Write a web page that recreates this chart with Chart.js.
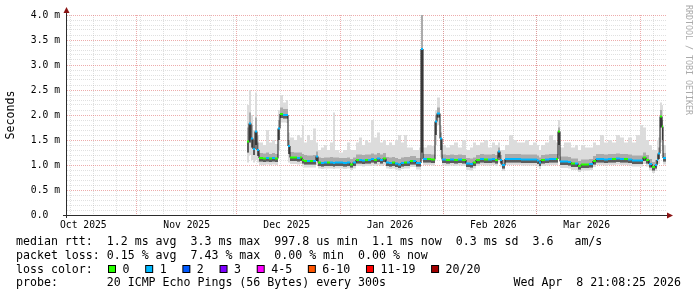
<!DOCTYPE html>
<html lang="en">
<head>
<meta charset="UTF-8">
<title>Smokeping median RTT</title>
<script src="https://cdn.jsdelivr.net/npm/chart.js"></script>
<style>
  body { margin: 0; background: #fff; }
  canvas { display: block; }
</style>
</head>
<body>
<canvas id="pingChart" width="697" height="297"></canvas>
<script>
// x values are days since 1 Oct 2025 (local time), one bin per entry
var times = [
  64.1, 64.7, 65.3, 65.9, 66.5, 67.1, 67.7, 68.9, 69.8, 70.7,
  71.6, 72.5, 73.4, 74.0, 74.9, 75.8, 76.4, 77.0, 78.2, 79.1,
  80.0, 80.6, 81.2, 82.1, 83.0, 83.9, 84.8, 85.4, 86.3, 87.2,
  88.1, 89.0, 89.9, 90.5, 91.7, 92.9, 94.1, 95.0, 95.9, 96.8,
  97.7, 98.6, 99.5, 100.4, 101.3, 102.2, 103.1, 104.0, 104.9, 105.8,
  106.7, 107.6, 108.5, 109.4, 110.3, 111.2, 112.1, 113.0, 113.9, 114.8,
  115.7, 116.3, 116.9, 118.1, 119.3, 120.5, 121.1, 122.0, 122.6, 123.8,
  125.0, 126.2, 127.4, 128.6, 129.8, 131.0, 131.9, 132.8, 134.0, 135.2,
  136.4, 137.6, 138.5, 139.4, 140.0, 140.6, 141.5, 142.7, 143.9, 145.1,
  146.3, 147.5, 148.7, 149.9, 151.1, 151.7, 152.3, 153.5, 154.7, 155.9,
  156.8, 157.4, 158.0, 159.2, 160.4, 161.3, 162.5, 163.4, 164.3, 165.5,
  166.7, 167.9, 168.8, 170.0, 171.2, 172.4, 173.6, 174.8, 176.0, 177.2,
  178.4, 179.6, 180.8, 182.0, 182.9, 183.8, 184.7, 185.6, 186.5, 187.1,
  187.4, 188.0, 188.6, 188.9
];
var timeEnd = 189.8;

// median rtt in ms
var median = [
  1.47, 1.83, 1.53, 1.32, 1.67, 1.30, 1.14, 1.13, 1.14, 1.13,
  1.14, 1.13, 1.73, 2.02, 2.00, 2.00, 1.38, 1.15, 1.15, 1.14,
  1.15, 1.10, 1.08, 1.08, 1.08, 1.08, 1.17, 1.05, 1.04, 1.05,
  1.05, 1.05, 1.04, 1.05, 1.05, 1.04, 1.05, 1.01, 1.05, 1.10,
  1.10, 1.09, 1.10, 1.10, 1.12, 1.10, 1.13, 1.10, 1.13, 1.05,
  1.04, 1.05, 1.03, 1.01, 1.04, 1.05, 1.05, 1.08, 1.08, 1.04,
  1.04, 3.32, 1.12, 1.12, 1.11, 1.87, 2.03, 1.53, 1.11, 1.10,
  1.11, 1.10, 1.11, 1.10, 1.03, 1.02, 1.05, 1.10, 1.12, 1.11,
  1.11, 1.12, 1.10, 1.27, 1.10, 1.00, 1.12, 1.12, 1.12, 1.12,
  1.11, 1.11, 1.11, 1.11, 1.09, 1.05, 1.10, 1.11, 1.12, 1.12,
  1.12, 1.67, 1.07, 1.07, 1.06, 1.03, 1.03, 0.98, 1.01, 1.01,
  1.02, 1.08, 1.12, 1.12, 1.11, 1.12, 1.12, 1.13, 1.12, 1.12,
  1.11, 1.09, 1.09, 1.09, 1.15, 1.10, 1.02, 0.96, 1.00, 1.10,
  1.23, 1.97, 1.77, 1.14
];

// lost pings per bin (index into lossColors)
var loss = [
  0, 1, 1, 1, 1, 1, 0, 0, 1, 0,
  1, 0, 1, 0, 1, 1, 1, 0, 0, 1,
  0, 0, 0, 1, 0, 1, 1, 0, 1, 1,
  0, 1, 1, 1, 1, 1, 1, 0, 1, 0,
  1, 1, 0, 1, 1, 0, 1, 1, 0, 1,
  1, 0, 1, 1, 1, 0, 1, 0, 1, 1,
  1, 1, 1, 0, 0, 1, 1, 1, 1, 0,
  1, 0, 1, 0, 1, 1, 0, 0, 1, 0,
  1, 1, 0, 1, 1, 1, 1, 1, 1, 1,
  1, 1, 1, 1, 1, 1, 0, 1, 1, 1,
  0, 0, 1, 1, 1, 0, 1, 0, 0, 0,
  1, 0, 1, 1, 1, 1, 0, 1, 1, 0,
  1, 1, 1, 1, 0, 0, 1, 0, 1, 1,
  1, 0, 0, 1
];

// smoke: slowest ping, upper quartile, lower quartile, fastest ping (ms)
var smokeHigh = [
  2.20, 2.50, 2.00, 1.70, 2.45, 1.60, 1.45, 1.40, 1.70, 1.45,
  1.50, 1.42, 2.10, 2.40, 2.25, 2.30, 1.65, 1.55, 1.50, 1.60,
  1.55, 1.80, 1.45, 1.60, 1.50, 1.73, 1.45, 1.30, 1.35, 1.40,
  1.30, 1.45, 2.05, 1.30, 1.25, 1.30, 1.45, 1.30, 1.30, 1.45,
  1.55, 1.40, 1.50, 1.45, 1.90, 1.55, 1.65, 1.45, 1.50, 1.40,
  1.45, 1.40, 1.50, 1.60, 1.45, 1.60, 1.35, 1.35, 1.30, 1.30,
  1.35, 4.20, 1.35, 1.40, 1.38, 2.10, 2.35, 1.80, 1.40, 1.35,
  1.40, 1.45, 1.35, 1.50, 1.30, 1.35, 1.45, 1.40, 1.45, 1.50,
  1.35, 1.45, 1.40, 1.45, 1.30, 1.30, 1.40, 1.60, 1.50, 1.45,
  1.45, 1.50, 1.40, 1.45, 1.40, 1.30, 1.40, 1.45, 1.60, 1.50,
  1.45, 1.90, 1.35, 1.45, 1.45, 1.35, 1.40, 1.30, 1.40, 1.35,
  1.35, 1.45, 1.40, 1.60, 1.45, 1.50, 1.45, 1.60, 1.55, 1.45,
  1.55, 1.45, 1.60, 1.80, 1.75, 1.50, 1.40, 1.30, 1.30, 1.50,
  1.55, 2.25, 2.20, 1.40
];
var smokeQ3 = [
  1.75, 2.05, 1.80, 1.50, 1.95, 1.45, 1.24, 1.23, 1.25, 1.22,
  1.24, 1.22, 1.90, 2.15, 2.12, 2.12, 1.50, 1.26, 1.25, 1.25,
  1.25, 1.22, 1.20, 1.19, 1.19, 1.20, 1.27, 1.15, 1.14, 1.15,
  1.15, 1.16, 1.15, 1.15, 1.14, 1.14, 1.15, 1.12, 1.15, 1.21,
  1.21, 1.20, 1.21, 1.21, 1.23, 1.21, 1.24, 1.21, 1.24, 1.16,
  1.15, 1.16, 1.14, 1.12, 1.15, 1.16, 1.16, 1.18, 1.18, 1.14,
  1.14, 4.10, 1.22, 1.22, 1.21, 2.00, 2.15, 1.65, 1.21, 1.20,
  1.21, 1.20, 1.21, 1.20, 1.14, 1.13, 1.15, 1.20, 1.22, 1.21,
  1.21, 1.22, 1.20, 1.35, 1.20, 1.10, 1.22, 1.22, 1.22, 1.22,
  1.21, 1.21, 1.21, 1.21, 1.19, 1.15, 1.20, 1.21, 1.22, 1.22,
  1.22, 1.75, 1.17, 1.17, 1.16, 1.13, 1.13, 1.08, 1.11, 1.11,
  1.12, 1.18, 1.22, 1.22, 1.21, 1.22, 1.22, 1.23, 1.22, 1.22,
  1.21, 1.19, 1.19, 1.19, 1.25, 1.20, 1.12, 1.06, 1.10, 1.20,
  1.35, 2.10, 1.90, 1.24
];
var smokeQ1 = [
  1.25, 1.45, 1.35, 1.20, 1.40, 1.18, 1.07, 1.06, 1.07, 1.06,
  1.07, 1.06, 1.50, 1.94, 1.93, 1.93, 1.22, 1.08, 1.08, 1.07,
  1.08, 1.03, 1.01, 1.01, 1.01, 1.01, 1.08, 0.98, 0.97, 0.98,
  0.98, 0.98, 0.97, 0.98, 0.98, 0.97, 0.98, 0.95, 0.98, 1.03,
  1.03, 1.02, 1.03, 1.03, 1.05, 1.03, 1.06, 1.03, 1.06, 0.98,
  0.97, 0.98, 0.96, 0.94, 0.97, 0.98, 0.98, 1.01, 1.01, 0.97,
  0.97, 1.25, 1.05, 1.05, 1.04, 1.60, 1.95, 1.30, 1.04, 1.03,
  1.04, 1.03, 1.04, 1.03, 0.96, 0.95, 0.98, 1.03, 1.05, 1.04,
  1.04, 1.05, 1.03, 1.15, 1.03, 0.93, 1.05, 1.05, 1.05, 1.05,
  1.04, 1.04, 1.04, 1.04, 1.02, 0.98, 1.03, 1.04, 1.05, 1.05,
  1.05, 1.40, 1.00, 1.00, 0.99, 0.96, 0.96, 0.91, 0.94, 0.94,
  0.95, 1.01, 1.05, 1.05, 1.04, 1.05, 1.05, 1.06, 1.05, 1.05,
  1.04, 1.02, 1.02, 1.02, 1.08, 1.03, 0.95, 0.89, 0.93, 1.03,
  1.12, 1.75, 1.50, 1.07
];
var smokeLow = [
  1.05, 1.20, 1.10, 1.05, 1.10, 1.05, 1.00, 1.00, 1.01, 1.00,
  1.01, 1.00, 1.30, 1.85, 1.85, 1.84, 1.05, 1.02, 1.02, 1.01,
  1.02, 0.97, 0.95, 0.95, 0.95, 0.95, 1.00, 0.93, 0.92, 0.93,
  0.93, 0.93, 0.92, 0.93, 0.93, 0.92, 0.93, 0.90, 0.93, 0.98,
  0.98, 0.97, 0.98, 0.98, 0.99, 0.98, 1.00, 0.98, 1.00, 0.93,
  0.92, 0.93, 0.91, 0.89, 0.92, 0.93, 0.93, 0.96, 0.96, 0.91,
  0.91, 1.08, 1.00, 1.00, 0.99, 1.40, 1.80, 1.15, 0.99, 0.98,
  0.99, 0.98, 0.99, 0.98, 0.90, 0.89, 0.93, 0.98, 1.00, 0.99,
  0.99, 1.00, 0.98, 1.05, 0.97, 0.88, 1.00, 1.00, 1.00, 1.00,
  0.99, 0.99, 0.99, 0.99, 0.97, 0.92, 0.98, 0.99, 1.00, 1.00,
  1.00, 1.20, 0.94, 0.94, 0.93, 0.90, 0.90, 0.86, 0.89, 0.89,
  0.90, 0.96, 1.00, 1.00, 0.99, 1.00, 1.00, 1.01, 1.00, 1.00,
  0.99, 0.97, 0.97, 0.97, 1.02, 0.97, 0.89, 0.84, 0.88, 0.97,
  1.02, 1.45, 1.30, 1.01
];

// axis: 180 days ending Wed Apr 8 21:08
var axisStart = 10.1, axisEnd = 190.1;
var monthStarts = [0, 31, 61, 92, 123, 151, 182];
var monthNames = ['Oct 2025', 'Nov 2025', 'Dec 2025', 'Jan 2026', 'Feb 2026', 'Mar 2026', 'Apr 2026'];
var firstSunday = 4;

var lossLabels = ['0', '1', '2', '3', '4-5', '6-10', '11-19', '20/20'];
var lossColors = ['#26ff00', '#00b8ff', '#0059ff', '#7e00ff', '#ff00ff', '#ff5500', '#ff0000', '#a10000'];

var legendLines = [
  'median rtt:  1.2 ms avg  3.3 ms max  997.8 us min  1.1 ms now  0.3 ms sd  3.6   am/s',
  'packet loss: 0.15 % avg  7.43 % max  0.00 % min  0.00 % now',
  'loss color:',
  'probe:       20 ICMP Echo Pings (56 Bytes) every 300s'
];
var stampText = 'Wed Apr  8 21:08:25 2026';

var MONO = '"DejaVu Sans Mono", monospace';
var majorGrid = 'rgba(220, 90, 90, 0.5)';
var minorGrid = 'rgba(160, 160, 160, 0.32)';

function steps(values) {
  var pts = times.map(function(t, i) { return {x: t, y: values[i]}; });
  pts.push({x: timeEnd, y: values[values.length - 1]});
  return pts;
}

// flat pieces only, so the jumps stay black like rrdtool draws them
var medianBits = [];
median.forEach(function(v, i) {
  var t1 = i + 1 < times.length ? times[i + 1] : timeEnd;
  medianBits.push({x: times[i], y: v, loss: loss[i]});
  medianBits.push({x: t1, y: v, loss: loss[i]});
  medianBits.push({x: t1, y: null});
});

function buildTimeTicks(scale) {
  var ticks = [];
  for (var d = firstSunday; d <= axisEnd; d += 7) {
    if (d >= axisStart) ticks.push({value: d, kind: 'week'});
  }
  monthStarts.forEach(function(m, i) {
    if (m >= axisStart && m <= axisEnd) ticks.push({value: m, kind: 'month'});
    var mid = m + 15; // rrdtool centres the label half a period after the month starts
    if (mid >= axisStart && mid <= axisEnd) ticks.push({value: mid, kind: 'label', text: monthNames[i]});
  });
  var rank = {week: 0, month: 1, label: 2};
  ticks.sort(function(a, b) { return a.value - b.value || rank[a.kind] - rank[b.kind]; });
  scale.ticks = ticks;
}

var decor = {
  id: 'decor',
  afterDraw: function(chart) {
    var ctx = chart.ctx, a = chart.chartArea;
    var ax = a.left - 0.5, ay = a.bottom + 0.5;
    ctx.save();

    // axes
    ctx.strokeStyle = '#2c2c2c';
    ctx.lineWidth = 1;
    ctx.beginPath();
    ctx.moveTo(ax, a.bottom + 3);
    ctx.lineTo(ax, a.top - 2);
    ctx.moveTo(a.left - 4, ay);
    ctx.lineTo(a.right, ay);
    ctx.stroke();

    // arrows
    ctx.fillStyle = '#8b1414';
    ctx.beginPath();
    ctx.moveTo(ax - 3, a.top - 2);
    ctx.lineTo(ax + 3, a.top - 2);
    ctx.lineTo(ax, a.top - 8);
    ctx.closePath();
    ctx.fill();
    ctx.beginPath();
    ctx.moveTo(a.right, ay - 3);
    ctx.lineTo(a.right, ay + 3);
    ctx.lineTo(a.right + 6, ay);
    ctx.closePath();
    ctx.fill();

    // watermark
    ctx.save();
    ctx.translate(688, 5);
    ctx.rotate(Math.PI / 2);
    ctx.font = '8.3px ' + MONO;
    ctx.fillStyle = '#aaaaaa';
    ctx.textBaseline = 'middle';
    ctx.textAlign = 'left';
    ctx.fillText('RRDTOOL / TOBI OETIKER', 0, 0);
    ctx.restore();

    // legend block
    ctx.font = '11.6px ' + MONO;
    ctx.fillStyle = '#000';
    ctx.textBaseline = 'alphabetic';
    ctx.textAlign = 'left';
    var rows = [245, 258.8, 272.5, 286.2];
    legendLines.forEach(function(line, i) { ctx.fillText(line, 16, rows[i]); });
    ctx.textAlign = 'right';
    ctx.fillText(stampText, 681, rows[3]);
    ctx.textAlign = 'left';

    var x = 108;
    lossLabels.forEach(function(lbl, i) {
      ctx.fillStyle = '#000';
      ctx.fillRect(x, 265, 8, 8);
      ctx.fillStyle = lossColors[i];
      ctx.fillRect(x + 1, 266, 6, 6);
      ctx.fillStyle = '#000';
      ctx.fillText(lbl, x + 14.5, rows[2]);
      x += 14.5 + ctx.measureText(lbl).width + 15.7;
    });
    ctx.restore();
  }
};

Chart.defaults.font.family = MONO;
Chart.defaults.color = '#000';

new Chart(document.getElementById('pingChart'), {
  type: 'line',
  data: {
    datasets: [
      {
        data: medianBits,
        borderWidth: 2,
        borderCapStyle: 'butt',
        spanGaps: false,
        segment: { borderColor: function(c) { return lossColors[medianBits[c.p0DataIndex].loss]; } },
        order: 0
      },
      { data: steps(median), stepped: true, borderColor: '#141414', borderWidth: 1, order: 1 },
      { data: steps(smokeQ1), stepped: true, borderWidth: 0, fill: 1, backgroundColor: '#5c5c5c', order: 2 },
      { data: steps(smokeQ3), stepped: true, borderWidth: 0, fill: 2, backgroundColor: '#ababab', order: 3 },
      { data: steps(smokeHigh), stepped: true, borderWidth: 0, fill: 5, backgroundColor: '#dcdcdc', order: 4 },
      { data: steps(smokeLow), stepped: true, borderWidth: 0, order: 5 }
    ]
  },
  options: {
    responsive: false,
    devicePixelRatio: 1,
    animation: false,
    layout: { padding: { top: 15, right: 30, left: 0, bottom: 0 } },
    elements: { point: { radius: 0, hoverRadius: 0 } },
    plugins: { legend: { display: false }, tooltip: { enabled: false } },
    scales: {
      x: {
        type: 'linear',
        min: axisStart,
        max: axisEnd,
        afterBuildTicks: buildTimeTicks,
        afterFit: function(s) { s.height = 82; },
        grid: {
          drawTicks: false,
          color: function(c) {
            if (!c.tick) return 'rgba(0,0,0,0)';
            if (c.tick.kind === 'month') return majorGrid;
            if (c.tick.kind === 'week') return minorGrid;
            return 'rgba(0,0,0,0)';
          }
        },
        border: { display: false, dash: [1, 1] },
        ticks: {
          autoSkip: false,
          maxRotation: 0,
          padding: 5,
          font: { size: 9.7 },
          callback: function(v, i, ticks) { return ticks[i].text || ''; }
        }
      },
      y: {
        min: 0,
        max: 4,
        afterBuildTicks: function(s) {
          var t = [];
          for (var i = 0; i <= 40; i++) t.push({value: i / 10});
          s.ticks = t;
        },
        afterFit: function(s) { s.width = 67; },
        title: { display: true, text: 'Seconds', font: { size: 11.6 }, padding: { top: 4, bottom: 0 } },
        grid: {
          drawTicks: false,
          color: function(c) {
            if (!c.tick || c.tick.value === 0) return 'rgba(0,0,0,0)';
            var v = c.tick.value * 2;
            return Math.abs(v - Math.round(v)) < 1e-6 ? majorGrid : minorGrid;
          }
        },
        border: { display: false, dash: [1, 1] },
        ticks: {
          autoSkip: false,
          padding: 7,
          font: { size: 9.7 },
          callback: function(v) {
            if (Math.abs(v * 2 - Math.round(v * 2)) > 1e-6) return '';
            return v === 0 ? '0.0  ' : v.toFixed(1) + ' m';
          }
        }
      }
    }
  },
  plugins: [decor]
});
</script>
</body>
</html>
